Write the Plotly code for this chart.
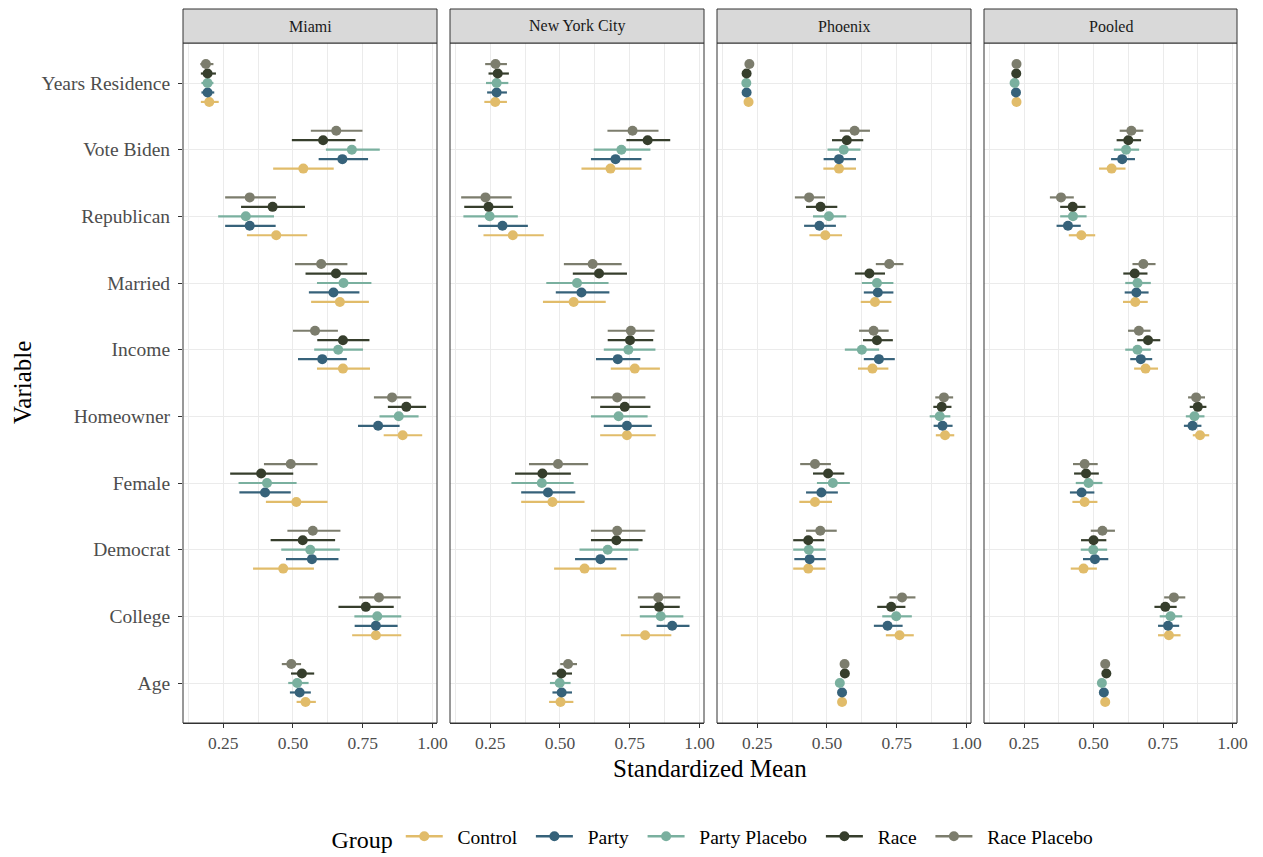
import plotly.graph_objects as go

VARIABLES = ["Age", "College", "Democrat", "Female", "Homeowner", "Income",
             "Married", "Republican", "Vote Biden", "Years Residence"]
CITIES = ["Miami", "New York City", "Phoenix", "Pooled"]
GROUPS = ["Control", "Party", "Party Placebo", "Race", "Race Placebo"]
COLORS = {"Control": "#E1BC6A", "Party": "#36627A", "Party Placebo": "#7AB09F",
          "Race": "#363E2C", "Race Placebo": "#7C7D6D"}

# ---- Miami ----
miami_mean = {
    "Control":      [0.545, 0.797, 0.465, 0.512, 0.893, 0.679, 0.668, 0.440, 0.537, 0.200],
    "Party":        [0.524, 0.797, 0.568, 0.400, 0.805, 0.605, 0.645, 0.345, 0.677, 0.194],
    "Party Placebo":[0.515, 0.802, 0.562, 0.407, 0.879, 0.662, 0.681, 0.331, 0.711, 0.194],
    "Race":         [0.532, 0.761, 0.535, 0.386, 0.906, 0.679, 0.654, 0.427, 0.608, 0.194],
    "Race Placebo": [0.494, 0.808, 0.571, 0.492, 0.855, 0.579, 0.601, 0.345, 0.655, 0.188],
}
miami_lo = {
    "Control":      [0.513, 0.712, 0.357, 0.403, 0.825, 0.586, 0.565, 0.335, 0.429, 0.170],
    "Party":        [0.489, 0.721, 0.475, 0.308, 0.733, 0.518, 0.557, 0.257, 0.592, 0.172],
    "Party Placebo":[0.483, 0.720, 0.458, 0.305, 0.810, 0.576, 0.586, 0.232, 0.618, 0.172],
    "Race":         [0.493, 0.663, 0.420, 0.275, 0.840, 0.587, 0.545, 0.314, 0.496, 0.170],
    "Race Placebo": [0.460, 0.737, 0.480, 0.396, 0.790, 0.500, 0.507, 0.257, 0.564, 0.168],
}
miami_hi = {
    "Control":      [0.582, 0.888, 0.575, 0.624, 0.963, 0.776, 0.772, 0.551, 0.646, 0.234],
    "Party":        [0.564, 0.875, 0.663, 0.492, 0.882, 0.693, 0.738, 0.438, 0.769, 0.218],
    "Party Placebo":[0.556, 0.888, 0.668, 0.513, 0.950, 0.751, 0.781, 0.432, 0.811, 0.215],
    "Race":         [0.576, 0.861, 0.651, 0.501, 0.977, 0.774, 0.765, 0.543, 0.724, 0.224],
    "Race Placebo": [0.529, 0.886, 0.670, 0.588, 0.924, 0.661, 0.695, 0.439, 0.749, 0.215],
}

# ---- New York City ----
nyc_mean = {
    "Control":      [0.502, 0.805, 0.588, 0.473, 0.740, 0.768, 0.549, 0.331, 0.681, 0.268],
    "Party":        [0.506, 0.902, 0.645, 0.457, 0.740, 0.707, 0.577, 0.294, 0.699, 0.273],
    "Party Placebo":[0.499, 0.861, 0.671, 0.435, 0.710, 0.745, 0.561, 0.248, 0.720, 0.273],
    "Race":         [0.505, 0.855, 0.702, 0.437, 0.732, 0.751, 0.640, 0.244, 0.814, 0.277],
    "Race Placebo": [0.529, 0.852, 0.705, 0.493, 0.705, 0.754, 0.617, 0.233, 0.760, 0.269],
}
nyc_lo = {
    "Control":      [0.461, 0.718, 0.479, 0.361, 0.644, 0.682, 0.439, 0.226, 0.577, 0.229],
    "Party":        [0.473, 0.846, 0.554, 0.361, 0.657, 0.629, 0.485, 0.207, 0.611, 0.239],
    "Party Placebo":[0.464, 0.786, 0.570, 0.326, 0.611, 0.657, 0.451, 0.154, 0.621, 0.235],
    "Race":         [0.472, 0.786, 0.611, 0.339, 0.644, 0.671, 0.546, 0.157, 0.738, 0.244],
    "Race Placebo": [0.501, 0.779, 0.611, 0.389, 0.611, 0.671, 0.514, 0.146, 0.670, 0.232],
}
nyc_hi = {
    "Control":      [0.548, 0.899, 0.702, 0.588, 0.843, 0.858, 0.664, 0.442, 0.792, 0.310],
    "Party":        [0.543, 0.964, 0.742, 0.555, 0.829, 0.788, 0.677, 0.385, 0.792, 0.310],
    "Party Placebo":[0.538, 0.942, 0.781, 0.549, 0.814, 0.842, 0.674, 0.349, 0.824, 0.315],
    "Race":         [0.543, 0.929, 0.796, 0.539, 0.824, 0.834, 0.740, 0.332, 0.895, 0.317],
    "Race Placebo": [0.561, 0.931, 0.806, 0.601, 0.806, 0.839, 0.721, 0.327, 0.853, 0.310],
}

# ---- Phoenix ----
phx_mean = {
    "Control":      [0.554, 0.760, 0.433, 0.457, 0.923, 0.663, 0.672, 0.494, 0.543, 0.219],
    "Party":        [0.554, 0.717, 0.438, 0.480, 0.914, 0.686, 0.682, 0.473, 0.543, 0.212],
    "Party Placebo":[0.546, 0.748, 0.435, 0.521, 0.904, 0.625, 0.679, 0.507, 0.560, 0.211],
    "Race":         [0.564, 0.730, 0.433, 0.504, 0.911, 0.679, 0.652, 0.477, 0.571, 0.212],
    "Race Placebo": [0.563, 0.769, 0.476, 0.457, 0.919, 0.667, 0.723, 0.436, 0.599, 0.222],
}
phx_lo = {
    "Control":      [0.544, 0.711, 0.379, 0.401, 0.890, 0.611, 0.621, 0.437, 0.487, 0.212],
    "Party":        [0.544, 0.668, 0.383, 0.425, 0.882, 0.632, 0.632, 0.418, 0.488, 0.205],
    "Party Placebo":[0.536, 0.698, 0.379, 0.464, 0.868, 0.564, 0.625, 0.450, 0.502, 0.204],
    "Race":         [0.554, 0.680, 0.379, 0.450, 0.881, 0.629, 0.600, 0.425, 0.518, 0.205],
    "Race Placebo": [0.553, 0.724, 0.425, 0.404, 0.888, 0.615, 0.675, 0.385, 0.546, 0.215],
}
phx_hi = {
    "Control":      [0.564, 0.811, 0.494, 0.518, 0.956, 0.720, 0.731, 0.554, 0.604, 0.226],
    "Party":        [0.564, 0.771, 0.496, 0.539, 0.950, 0.743, 0.738, 0.532, 0.604, 0.219],
    "Party Placebo":[0.556, 0.804, 0.495, 0.582, 0.942, 0.687, 0.738, 0.569, 0.620, 0.218],
    "Race":         [0.574, 0.781, 0.490, 0.562, 0.946, 0.736, 0.708, 0.537, 0.630, 0.219],
    "Race Placebo": [0.573, 0.817, 0.535, 0.514, 0.952, 0.721, 0.774, 0.493, 0.654, 0.229],
}

# ---- Pooled ----
pool_mean = {
    "Control":      [0.542, 0.771, 0.464, 0.468, 0.883, 0.687, 0.650, 0.456, 0.565, 0.223],
    "Party":        [0.537, 0.768, 0.505, 0.457, 0.856, 0.670, 0.654, 0.408, 0.603, 0.221],
    "Party Placebo":[0.530, 0.777, 0.499, 0.482, 0.863, 0.658, 0.658, 0.426, 0.617, 0.216],
    "Race":         [0.546, 0.758, 0.500, 0.473, 0.875, 0.696, 0.648, 0.425, 0.625, 0.222],
    "Race Placebo": [0.542, 0.789, 0.532, 0.468, 0.869, 0.663, 0.679, 0.383, 0.636, 0.223],
}
pool_lo = {
    "Control":      [0.535, 0.732, 0.418, 0.424, 0.857, 0.646, 0.606, 0.411, 0.520, 0.218],
    "Party":        [0.530, 0.732, 0.462, 0.415, 0.825, 0.632, 0.612, 0.367, 0.563, 0.216],
    "Party Placebo":[0.523, 0.738, 0.454, 0.436, 0.832, 0.614, 0.614, 0.380, 0.573, 0.211],
    "Race":         [0.539, 0.719, 0.455, 0.430, 0.846, 0.657, 0.607, 0.380, 0.583, 0.217],
    "Race Placebo": [0.535, 0.754, 0.490, 0.426, 0.840, 0.624, 0.640, 0.343, 0.594, 0.218],
}
pool_hi = {
    "Control":      [0.549, 0.813, 0.512, 0.514, 0.916, 0.732, 0.695, 0.506, 0.615, 0.228],
    "Party":        [0.544, 0.808, 0.553, 0.503, 0.888, 0.711, 0.698, 0.454, 0.649, 0.226],
    "Party Placebo":[0.537, 0.819, 0.549, 0.532, 0.899, 0.706, 0.706, 0.475, 0.664, 0.221],
    "Race":         [0.553, 0.799, 0.546, 0.519, 0.906, 0.740, 0.694, 0.471, 0.671, 0.227],
    "Race Placebo": [0.549, 0.830, 0.577, 0.515, 0.901, 0.705, 0.723, 0.429, 0.679, 0.228],
}

X_TICKS = [0.25, 0.50, 0.75, 1.00]
X_TICK_LABELS = ["0.25", "0.50", "0.75", "1.00"]

CITY_DATA = {
    "Miami": (miami_mean, miami_lo, miami_hi),
    "New York City": (nyc_mean, nyc_lo, nyc_hi),
    "Phoenix": (phx_mean, phx_lo, phx_hi),
    "Pooled": (pool_mean, pool_lo, pool_hi),
}

FONT = "Liberation Serif"
W, H = 1263, 857
L, R, T, B = 183, 26, 43, 134
PW = W - L - R
PH = H - T - B
panel_w = 254
gap = 13
DODGE = 0.142
offsets = {g: (i - 2) * DODGE for i, g in enumerate(GROUPS)}
NB = "\u00a0"
THIN = "\u2009"

fig = go.Figure()

for ci, city in enumerate(CITIES):
    means, los, his = CITY_DATA[city]
    xa = "x" if ci == 0 else f"x{ci+1}"
    for g in GROUPS:
        m = means[g]
        ys = [i + 1 + offsets[g] for i in range(len(VARIABLES))]
        fig.add_trace(go.Scatter(
            x=m, y=ys, mode="markers", xaxis=xa, yaxis="y",
            marker=dict(color=COLORS[g], size=10),
            error_x=dict(type="data", symmetric=False,
                         array=[h - v for h, v in zip(his[g], m)],
                         arrayminus=[v - l for v, l in zip(m, los[g])],
                         color=COLORS[g], thickness=2.2, width=0),
            showlegend=False, name=g, hoverinfo="x+name"))

# legend entries
for g in GROUPS:
    fig.add_trace(go.Scatter(x=[None], y=[None], mode="lines+markers",
                             line=dict(color=COLORS[g], width=2.4),
                             marker=dict(color=COLORS[g], size=10),
                             name=NB + NB + g + NB + THIN, showlegend=True))

xrange = [0.106, 1.016]
layout = dict(
    width=W, height=H,
    margin=dict(l=L, r=R, t=T, b=B, autoexpand=False),
    paper_bgcolor="white", plot_bgcolor="white",
    font=dict(family=FONT, color="#000000"),
    showlegend=True,
    legend=dict(orientation="h", x=0.508, xanchor="center",
                yref="container", y=1 - 838 / H, yanchor="middle",
                title=dict(text="Group", font=dict(size=24, family=FONT)),
                font=dict(size=19.5, family=FONT), itemwidth=37,
                tracegroupgap=0, valign="middle"),
)

axis_common = dict(
    range=xrange, tickvals=X_TICKS, ticktext=X_TICK_LABELS,
    showgrid=True, gridcolor="#EBEBEB", gridwidth=1.2,
    minor=dict(dtick=0.25, tick0=0.125, showgrid=True, gridcolor="#EBEBEB", gridwidth=0.6, ticks=""),
    ticks="outside", ticklen=4, tickcolor="#333333", tickwidth=1,
    tickfont=dict(size=17.5, color="#4D4D4D", family=FONT),
    showline=True, linecolor="#333333", linewidth=1, mirror=True,
    zeroline=False, anchor="y", automargin=False,
)
for ci in range(4):
    x0 = (ci * (panel_w + gap)) / PW
    x1 = (ci * (panel_w + gap) + panel_w) / PW
    key = "xaxis" if ci == 0 else f"xaxis{ci+1}"
    layout[key] = dict(axis_common, domain=[x0, min(x1, 1.0)])

layout["yaxis"] = dict(
    range=[0.4, 10.6], tickvals=list(range(1, len(VARIABLES) + 1)), ticktext=VARIABLES,
    showgrid=True, gridcolor="#EBEBEB", gridwidth=1.2,
    ticks="outside", ticklen=4, tickcolor="#333333", tickwidth=1,
    tickfont=dict(size=19.5, color="#4D4D4D", family=FONT),
    ticklabelstandoff=4,
    showline=False, zeroline=False, anchor="x", domain=[0, 1], automargin=False,
)
fig.update_layout(**layout)

shapes = []
annotations = []
strip_h = 34 / PH
for ci, city in enumerate(CITIES):
    x0 = (ci * (panel_w + gap)) / PW
    x1 = min((ci * (panel_w + gap) + panel_w) / PW, 1.0)
    shapes.append(dict(type="rect", xref="paper", yref="paper", x0=x0, x1=x1, y0=0, y1=1,
                       line=dict(color="#333333", width=1), fillcolor="rgba(0,0,0,0)", layer="above"))
    shapes.append(dict(type="rect", xref="paper", yref="paper", x0=x0, x1=x1, y0=1, y1=1 + strip_h,
                       line=dict(color="#333333", width=1), fillcolor="#D9D9D9", layer="above"))
    annotations.append(dict(text=city, xref="paper", yref="paper", x=(x0 + x1) / 2, y=1 + strip_h / 2,
                            showarrow=False, xanchor="center", yanchor="middle",
                            font=dict(size=16, color="#1A1A1A", family=FONT)))

annotations.append(dict(text="Standardized Mean", xref="paper", yref="paper",
                        x=0.5, y=-45 / PH, showarrow=False, xanchor="center", yanchor="middle",
                        font=dict(size=25, color="#000000", family=FONT)))
annotations.append(dict(text="Variable", xref="paper", yref="paper",
                        x=-(L - 22) / PW, y=0.5, showarrow=False, xanchor="center", yanchor="middle",
                        textangle=-90, font=dict(size=25, color="#000000", family=FONT)))
fig.update_layout(shapes=shapes, annotations=annotations)

fig.write_html("out.html", config={"displayModeBar": False},
               post_script="document.body.style.margin='0';document.body.style.overflow='hidden';")
